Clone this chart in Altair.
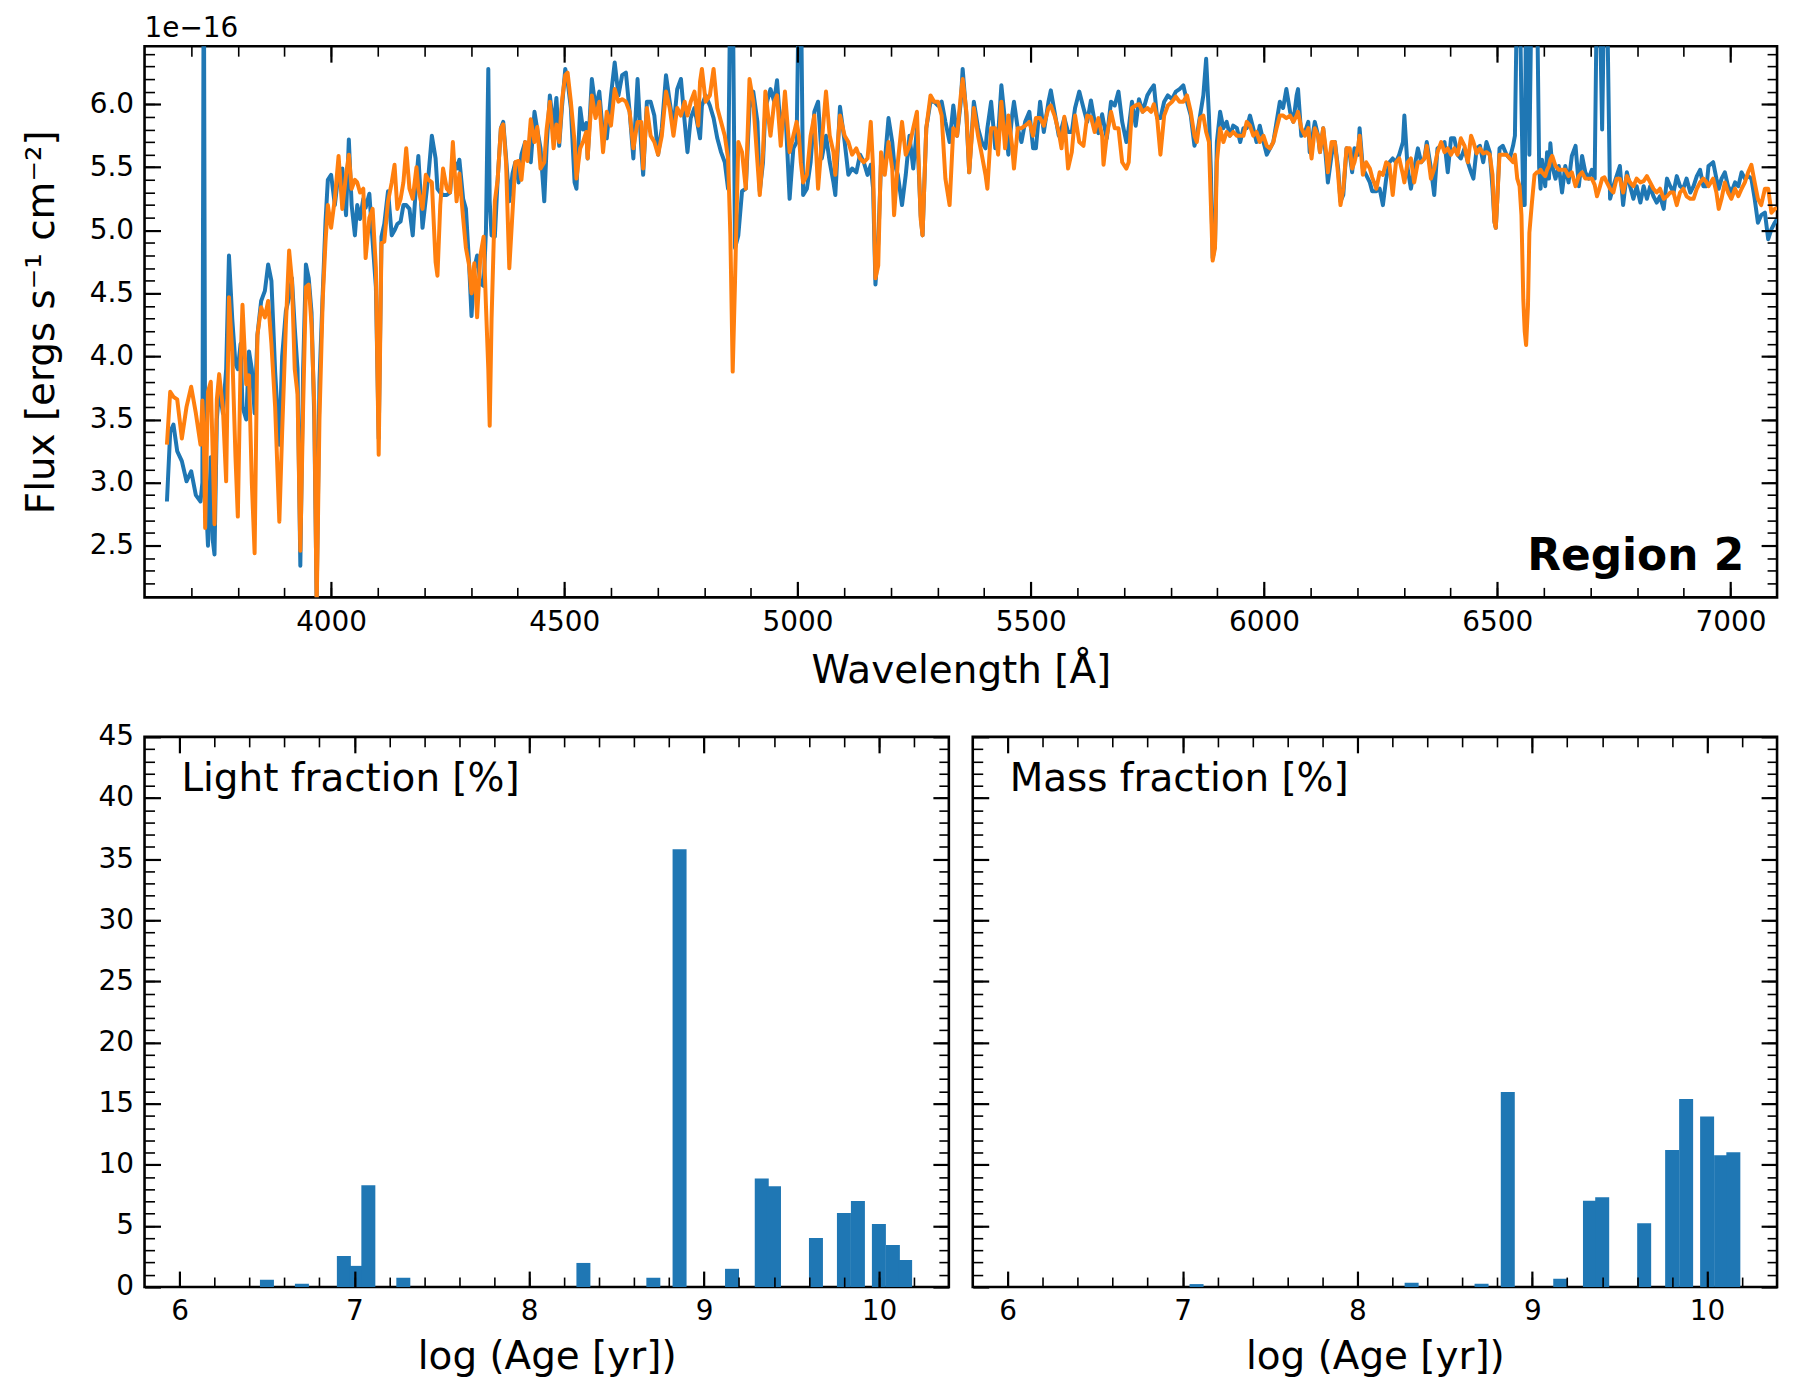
import altair as alt
import pandas as pd

# ---------------- spectrum (flux in units of 1e-16) ----------------
wave_a = [3648, 3655, 3662, 3670, 3680, 3690, 3700, 3710, 3720, 3724,
          3727, 3730, 3736, 3742, 3746, 3750, 3755, 3760, 3768, 3775,
          3781, 3788, 3795, 3800, 3806, 3810, 3818, 3824, 3830, 3836,
          3842, 3850, 3858, 3865, 3872, 3880, 3889, 3895, 3903, 3910,
          3916, 3922, 3928, 3934, 3940, 3946, 3952, 3958, 3964, 3969,
          3975, 3982, 3988, 3993]
obs_a = [2.85, 3.40, 3.46, 3.25, 3.17, 3.01, 3.09, 2.90, 2.85, 3.00,
         7.50, 3.00, 2.50, 3.20, 2.55, 2.43, 3.50, 3.75, 3.55, 3.90,
         4.80, 4.30, 3.94, 3.90, 4.10, 3.60, 3.50, 4.04, 3.90, 3.55,
         4.17, 4.44, 4.52, 4.73, 4.60, 3.88, 3.30, 4.00, 4.36, 4.47,
         4.62, 4.23, 3.90, 2.34, 3.90, 4.73, 4.62, 4.35, 3.50, 2.05,
         3.80, 4.50, 5.07, 5.40]
mod_a = [3.30, 3.72, 3.68, 3.66, 3.35, 3.60, 3.76, 3.55, 3.30, 3.65,
         3.40, 2.64, 3.72, 3.80, 3.25, 2.67, 3.66, 3.86, 3.59, 3.01,
         4.47, 4.04, 3.20, 2.73, 3.96, 4.41, 3.78, 3.85, 3.00, 2.44,
         4.17, 4.39, 4.31, 4.44, 4.10, 3.60, 2.69, 3.40, 4.25, 4.84,
         4.60, 3.90, 3.70, 2.46, 3.60, 4.55, 4.57, 4.25, 3.60, 2.00,
         3.50, 4.45, 4.91, 5.20]

wave_b = [4000, 4008, 4016, 4024, 4032, 4038, 4044, 4051, 4056, 4062,
          4069, 4074, 4082, 4089, 4096, 4102, 4108, 4114, 4122, 4130,
          4136, 4142, 4149, 4155, 4161, 4168, 4175, 4183, 4187, 4196,
          4203, 4209, 4216, 4224, 4228, 4234, 4240, 4248, 4255, 4261,
          4269, 4275, 4283, 4289, 4296, 4301, 4307, 4313, 4320, 4327,
          4332, 4337, 4340, 4344, 4351, 4357, 4364, 4369, 4375, 4382,
          4389, 4395, 4402, 4408, 4416, 4421, 4428, 4436, 4442, 4449,
          4457, 4462, 4469, 4477, 4483, 4489, 4495, 4502, 4507, 4514,
          4522, 4526, 4534, 4540, 4547, 4550, 4559, 4567]
obs_b = [5.44, 5.20, 5.46, 5.49, 5.12, 5.72, 5.20, 4.96, 5.20, 5.09,
         5.25, 5.18, 5.29, 4.91, 4.55, 3.35, 4.95, 5.05, 5.31, 4.96,
         5.00, 5.05, 5.07, 5.20, 5.20, 5.17, 4.96, 5.41, 5.59, 5.02,
         5.25, 5.45, 5.75, 5.57, 5.33, 5.30, 5.28, 5.28, 5.30, 5.57,
         5.49, 5.56, 5.25, 5.17, 4.72, 4.32, 4.70, 4.80, 4.58, 4.56,
         5.00, 6.28, 5.23, 4.96, 4.95, 5.40, 5.81, 5.86, 5.58, 5.23,
         5.45, 5.54, 5.38, 5.60, 5.70, 5.62, 5.54, 5.94, 5.80, 5.65,
         5.23, 5.66, 6.07, 5.81, 6.05, 5.67, 5.98, 6.28, 6.18, 5.97,
         5.38, 5.33, 5.97, 5.80, 5.85, 5.57, 6.20, 5.97]
mod_b = [5.02, 5.25, 5.59, 5.17, 5.44, 5.60, 5.33, 5.40, 5.38, 5.30,
         5.33, 4.78, 5.10, 5.17, 4.70, 3.22, 4.90, 4.91, 5.23, 5.38,
         5.52, 5.17, 5.25, 5.38, 5.65, 5.33, 5.25, 5.50, 5.33, 5.17,
         5.44, 5.40, 5.38, 4.75, 4.64, 5.20, 5.49, 5.33, 5.30, 5.70,
         5.23, 5.45, 5.10, 4.86, 4.72, 4.50, 4.74, 4.31, 4.80, 4.95,
         4.40, 3.90, 3.45, 4.30, 5.23, 5.40, 5.81, 5.84, 5.54, 4.70,
         5.15, 5.54, 5.55, 5.40, 5.70, 5.55, 5.88, 5.70, 5.82, 5.49,
         5.54, 5.80, 6.02, 5.65, 5.84, 5.70, 6.03, 6.23, 6.25, 6.02,
         5.70, 5.41, 5.65, 5.70, 5.78, 5.57, 6.07, 5.89]

wave_c = [4575, 4583, 4591, 4600, 4608, 4616, 4624, 4632, 4640, 4648,
          4657, 4665, 4669, 4677, 4685, 4693, 4701, 4709, 4718, 4726,
          4734, 4742, 4750, 4758, 4764, 4771, 4779, 4787, 4791, 4795,
          4803, 4812, 4820, 4828, 4836, 4844, 4851, 4856, 4861, 4866,
          4873, 4881, 4889, 4897, 4905, 4914, 4919, 4926, 4931, 4942,
          4950, 4956, 4964, 4973, 4983, 4991, 4998, 5003, 5007, 5012,
          5020, 5028, 5036, 5044, 5052, 5061, 5069, 5077, 5081, 5091,
          5101, 5109, 5117, 5126, 5134, 5142, 5150, 5157, 5162, 5167,
          5173, 5179, 5187, 5195, 5203, 5207, 5215, 5224, 5232, 5240,
          5248, 5256, 5264, 5268, 5276, 5285, 5293, 5301, 5309, 5317,
          5326, 5334, 5342, 5350, 5354, 5362, 5368, 5378, 5387, 5395,
          5403, 5407, 5415, 5424, 5430, 5437, 5445, 5452, 5460, 5464,
          5472, 5480, 5488, 5497, 5505, 5511, 5520, 5528, 5538, 5543,
          5551, 5560, 5566, 5572, 5580, 5588, 5595, 5604, 5613, 5621,
          5629, 5637, 5645, 5653, 5656, 5663, 5672, 5680, 5688, 5696,
          5705, 5710, 5717, 5725, 5732, 5740, 5750, 5758, 5764, 5771,
          5778, 5786, 5794, 5803, 5811, 5819, 5827, 5835, 5843, 5851]
obs_c = [6.10, 5.75, 5.73, 6.07, 6.33, 6.07, 6.23, 6.25, 5.94, 5.57,
         6.20, 5.65, 5.44, 6.02, 6.02, 5.91, 5.60, 5.81, 6.23, 6.02,
         5.81, 6.12, 6.20, 5.86, 5.62, 5.89, 5.97, 5.81, 5.73, 5.99,
         6.07, 5.99, 5.89, 5.73, 5.62, 5.54, 5.33, 7.00, 7.00, 4.86,
         4.96, 5.31, 5.33, 5.97, 6.10, 5.86, 5.31, 5.54, 5.97, 6.12,
         6.02, 6.19, 5.78, 6.02, 5.25, 5.65, 5.70, 7.00, 7.00, 5.28,
         5.33, 5.54, 5.94, 6.02, 5.57, 5.75, 5.54, 5.38, 5.28, 5.98,
         5.70, 5.44, 5.49, 5.46, 5.60, 5.54, 5.44, 5.52, 5.33, 4.57,
         4.90, 5.54, 5.54, 5.89, 5.70, 5.54, 5.44, 5.20, 5.44, 5.75,
         5.49, 5.81, 5.12, 4.96, 5.81, 6.02, 6.02, 5.99, 6.02, 5.86,
         5.70, 5.99, 5.75, 6.02, 6.28, 5.91, 5.46, 6.02, 5.81, 5.70,
         5.65, 5.81, 6.02, 5.65, 5.75, 6.15, 5.86, 5.60, 5.91, 6.02,
         5.81, 5.70, 5.86, 5.94, 5.65, 5.65, 6.02, 5.78, 6.02, 6.11,
         5.94, 5.75, 5.81, 5.89, 5.78, 5.78, 5.97, 6.10, 5.97, 5.86,
         6.03, 5.86, 5.77, 5.92, 5.86, 5.73, 6.02, 5.99, 6.10, 5.86,
         5.70, 5.81, 6.02, 5.83, 6.04, 5.94, 6.07, 6.12, 6.15, 5.89,
         5.89, 6.02, 6.07, 6.04, 6.10, 6.12, 6.15, 6.02, 5.91, 5.67]
mod_c = [6.02, 5.62, 5.94, 5.83, 6.12, 6.02, 6.04, 6.02, 5.94, 5.65,
         5.86, 5.86, 5.49, 5.97, 5.75, 5.70, 5.60, 5.75, 6.10, 5.97,
         5.75, 5.97, 5.91, 6.02, 5.91, 6.02, 6.10, 5.83, 6.18, 6.28,
         6.02, 6.07, 6.28, 5.97, 5.86, 5.75, 5.57, 4.96, 3.88, 4.60,
         5.70, 5.62, 5.33, 6.20, 6.02, 5.54, 5.28, 5.62, 6.10, 5.75,
         6.02, 6.07, 5.67, 6.10, 5.62, 5.75, 5.86, 5.75, 5.54, 5.38,
         5.44, 5.75, 5.91, 5.33, 5.70, 6.10, 5.75, 5.62, 5.44, 5.91,
         5.75, 5.70, 5.60, 5.65, 5.57, 5.54, 5.57, 5.86, 5.49, 4.62,
         4.72, 5.62, 5.44, 5.70, 5.49, 5.12, 5.54, 5.86, 5.60, 5.67,
         5.81, 5.94, 5.09, 4.96, 5.81, 6.07, 6.02, 6.02, 5.91, 5.41,
         5.20, 5.81, 5.75, 6.07, 6.20, 5.94, 5.46, 5.97, 5.75, 5.60,
         5.44, 5.33, 5.81, 5.81, 5.60, 6.02, 5.65, 5.91, 5.67, 5.49,
         5.81, 5.81, 5.83, 5.86, 5.75, 5.89, 5.89, 5.83, 5.97, 5.99,
         5.91, 5.78, 5.65, 5.90, 5.49, 5.62, 5.91, 5.70, 5.67, 5.91,
         5.90, 5.78, 5.89, 5.75, 5.52, 5.75, 5.94, 5.81, 5.81, 5.54,
         5.49, 5.54, 5.97, 5.99, 6.00, 5.94, 5.97, 5.94, 6.00, 5.89,
         5.60, 5.91, 5.99, 6.02, 6.06, 6.02, 6.02, 6.07, 5.94, 5.75]

wave_d = [5856, 5863, 5870, 5876, 5882, 5886, 5890, 5895, 5899, 5906,
          5913, 5920, 5927, 5934, 5942, 5949, 5956, 5963, 5970, 5977,
          5984, 5991, 5999, 6006, 6013, 6020, 6027, 6034, 6041, 6048,
          6056, 6063, 6070, 6073, 6080, 6088, 6095, 6098, 6102, 6109,
          6116, 6120, 6127, 6134, 6137, 6145, 6152, 6159, 6164, 6170,
          6177, 6184, 6189, 6194, 6202, 6205, 6212, 6219, 6227, 6232,
          6241, 6248, 6255, 6262, 6269, 6276, 6283, 6290, 6298, 6301,
          6308, 6315, 6322, 6330, 6337, 6344, 6349, 6358, 6365, 6372,
          6380, 6387, 6394, 6401, 6408, 6415, 6422, 6430, 6437, 6444,
          6449, 6456, 6463, 6470, 6477, 6484, 6490, 6494, 6497, 6500,
          6505, 6512, 6520, 6527, 6534, 6538]
obs_d = [5.75, 5.91, 6.07, 6.36, 5.91, 5.49, 4.78, 4.88, 5.70, 5.94,
         5.81, 5.86, 5.75, 5.83, 5.81, 5.70, 5.81, 5.81, 5.91, 5.81,
         5.70, 5.83, 5.70, 5.60, 5.65, 5.70, 5.86, 6.02, 5.97, 6.12,
         5.94, 5.86, 6.07, 6.12, 5.75, 5.78, 5.86, 5.62, 5.70, 5.86,
         5.75, 5.62, 5.81, 5.52, 5.38, 5.60, 5.70, 5.49, 5.23, 5.28,
         5.65, 5.60, 5.46, 5.65, 5.60, 5.81, 5.49, 5.44, 5.38, 5.31,
         5.31, 5.33, 5.20, 5.41, 5.54, 5.57, 5.54, 5.60, 5.70, 5.91,
         5.49, 5.33, 5.49, 5.65, 5.54, 5.57, 5.70, 5.49, 5.28, 5.65,
         5.67, 5.70, 5.46, 5.73, 5.73, 5.60, 5.57, 5.65, 5.54, 5.46,
         5.41, 5.65, 5.67, 5.54, 5.70, 5.62, 5.33, 5.07, 5.02, 5.23,
         5.65, 5.67, 5.60, 5.57, 5.67, 5.75]
mod_d = [5.70, 5.89, 5.91, 5.78, 5.70, 5.23, 4.76, 4.86, 5.54, 5.81,
         5.70, 5.78, 5.75, 5.78, 5.75, 5.75, 5.75, 5.86, 5.83, 5.75,
         5.78, 5.70, 5.75, 5.67, 5.65, 5.70, 5.81, 5.91, 5.91, 5.89,
         5.91, 5.86, 5.91, 5.94, 5.81, 5.75, 5.81, 5.70, 5.57, 5.81,
         5.75, 5.62, 5.81, 5.60, 5.46, 5.70, 5.70, 5.44, 5.20, 5.33,
         5.65, 5.65, 5.49, 5.54, 5.67, 5.75, 5.44, 5.54, 5.49, 5.42,
         5.33, 5.46, 5.44, 5.54, 5.52, 5.28, 5.54, 5.57, 5.44, 5.38,
         5.54, 5.57, 5.38, 5.54, 5.54, 5.57, 5.67, 5.41, 5.49, 5.62,
         5.70, 5.62, 5.65, 5.60, 5.65, 5.60, 5.73, 5.67, 5.54, 5.75,
         5.70, 5.61, 5.65, 5.61, 5.62, 5.60, 5.44, 5.07, 5.02, 5.23,
         5.60, 5.60, 5.60, 5.57, 5.54, 5.60]

wave_e = [6543, 6548, 6552, 6556, 6559, 6562, 6566, 6569, 6574, 6580,
          6585, 6590, 6593, 6596, 6603, 6607, 6611, 6614, 6618, 6625,
          6632, 6639, 6646, 6653, 6660, 6668, 6675, 6682, 6689, 6696,
          6703, 6709, 6714, 6719, 6725, 6730, 6735, 6742, 6749, 6756,
          6763, 6770, 6778, 6785, 6792, 6799, 6807, 6814, 6821, 6828,
          6835, 6842, 6849, 6857, 6864, 6871, 6878, 6885, 6892, 6899,
          6906, 6914, 6921, 6928, 6935, 6942, 6949, 6953, 6963, 6970,
          6975, 6981, 6988, 6995, 7002, 7010, 7017, 7024, 7031, 7038,
          7045, 7052, 7059, 7066, 7074, 7081, 7088, 7095, 7100]
obs_e = [7.00, 7.00, 6.00, 5.20, 5.20, 7.00, 7.00, 5.60, 7.00, 7.00,
         7.00, 5.50, 5.33, 5.56, 5.35, 5.62, 5.41, 5.69, 5.51, 5.41,
         5.51, 5.30, 5.51, 5.38, 5.59, 5.67, 5.35, 5.59, 5.46, 5.41,
         5.48, 5.41, 7.00, 7.00, 5.80, 7.00, 7.00, 5.25, 5.35, 5.43,
         5.51, 5.20, 5.46, 5.35, 5.25, 5.35, 5.22, 5.35, 5.25, 5.35,
         5.27, 5.22, 5.27, 5.17, 5.41, 5.35, 5.30, 5.43, 5.35, 5.33,
         5.41, 5.30, 5.35, 5.43, 5.48, 5.35, 5.35, 5.51, 5.54, 5.41,
         5.33, 5.41, 5.46, 5.35, 5.30, 5.38, 5.35, 5.46, 5.41, 5.43,
         5.41, 5.25, 5.06, 5.12, 5.14, 4.93, 5.01, 5.06, 5.09]
mod_e = [5.41, 5.35, 5.12, 4.45, 4.20, 4.09, 4.40, 4.98, 5.20, 5.44,
         5.46, 5.46, 5.48, 5.46, 5.43, 5.48, 5.51, 5.56, 5.59, 5.51,
         5.48, 5.48, 5.48, 5.43, 5.46, 5.35, 5.43, 5.46, 5.41, 5.41,
         5.41, 5.36, 5.27, 5.33, 5.41, 5.42, 5.38, 5.33, 5.30, 5.41,
         5.41, 5.30, 5.43, 5.38, 5.35, 5.41, 5.38, 5.39, 5.43, 5.38,
         5.33, 5.30, 5.33, 5.25, 5.27, 5.30, 5.30, 5.20, 5.30, 5.33,
         5.27, 5.25, 5.25, 5.33, 5.38, 5.41, 5.38, 5.35, 5.41, 5.30,
         5.17, 5.25, 5.38, 5.30, 5.25, 5.33, 5.27, 5.33, 5.38, 5.46,
         5.52, 5.38, 5.25, 5.20, 5.33, 5.33, 5.14, 5.17, 5.18]

# ---------------- population histograms ----------------
age_light = [6.50, 6.70, 6.94, 7.01, 7.08, 7.28, 8.31, 8.71, 8.86,
             9.16, 9.33, 9.40, 9.64, 9.80, 9.88, 10.00, 10.08, 10.15]
light_frac = [0.60, 0.27, 2.54, 1.73, 8.32, 0.76, 1.97, 0.76, 35.8,
              1.49, 8.88, 8.24, 4.01, 6.05, 7.03, 5.15, 3.44, 2.22]
age_mass = [7.08, 8.31, 8.71, 8.86, 9.16, 9.33, 9.40, 9.64, 9.80,
            9.88, 10.00, 10.08, 10.15]
mass_frac = [0.24, 0.35, 0.27, 15.95, 0.68, 7.05, 7.35, 5.22, 11.2,
             15.38, 13.95, 10.78, 11.03]

# ---------------- ticks and ranges ----------------
spec_x_major = [4000, 4500, 5000, 5500, 6000, 6500, 7000]
spec_x_minor = list(range(3700, 7100, 100))
spec_y_major = [2.5, 3.0, 3.5, 4.0, 4.5, 5.0, 5.5, 6.0]
spec_y_minor = [round(2.1 + 0.1 * i, 1) for i in range(44)]
age_x_major = [6, 7, 8, 9, 10]
age_x_minor = [round(6.0 + 0.2 * i, 1) for i in range(22)]
frac_y_major = [0, 5, 10, 15, 20, 25, 30, 35, 40, 45]
frac_y_minor = list(range(1, 45))

SPEC_X = [3600, 7100]
SPEC_Y = [2.09, 6.46]
AGE_X = [5.8, 10.4]
FRAC_Y = [0, 45]

FONT = "DejaVu Sans"
BLUE = "#1f77b4"
ORANGE = "#ff7f0e"
MAJ = 16
MINR = 10
BAR_HALF = 0.04
TOP_W, TOP_H = 1638, 553
BOT_W, BOT_H = 807, 552
LINE_W = 4.0


def make_axis(orient, values, size, labels=False, fmt=None, title=None, pad=0):
    kw = dict(orient=orient, values=values, tickSize=size, offset=-size,
              domain=False, grid=False, ticks=True, tickColor="black",
              tickWidth=2.2 if size == MAJ else 1.6, labels=labels,
              zindex=1, title=title)
    if labels:
        kw.update(format=fmt, labelFont=FONT, labelFontSize=28,
                  labelColor="black", labelPadding=11, labelFlush=False,
                  labelOverlap=False)
    if title:
        kw.update(titleFont=FONT, titleFontSize=39, titleFontWeight="normal",
                  titleColor="black", titlePadding=pad)
    return alt.Axis(**kw)


def frame_layers(xs, ys, xdom, ydom, xmaj, xmin, ymaj, ymin, xfmt, yfmt,
                 xtitle, ytitle, ylabels, xpad, ypad):
    dummy = pd.DataFrame({"u": [xdom[0]], "v": [ydom[0]]})
    pairs = [
        (make_axis("bottom", xmaj, MAJ, True, xfmt, xtitle, xpad),
         make_axis("left", ymaj, MAJ, ylabels, yfmt, ytitle, ypad)),
        (make_axis("bottom", xmin, MINR), make_axis("left", ymin, MINR)),
        (make_axis("top", xmaj, MAJ), make_axis("right", ymaj, MAJ)),
        (make_axis("top", xmin, MINR), make_axis("right", ymin, MINR)),
    ]
    return [
        alt.Chart(dummy).mark_point(opacity=0).encode(
            x=alt.X("u:Q", scale=xs, axis=a), y=alt.Y("v:Q", scale=ys, axis=b))
        for a, b in pairs
    ]


one = pd.DataFrame({"t": [0]})

# ---------------- top panel: spectrum ----------------
xs_spec = alt.Scale(domain=SPEC_X, nice=False, zero=False)
ys_spec = alt.Scale(domain=SPEC_Y, nice=False, zero=False)

df_obs = pd.DataFrame({"wave": wave_a + wave_b + wave_c + wave_d + wave_e,
                       "flux": obs_a + obs_b + obs_c + obs_d + obs_e})
df_mod = pd.DataFrame({"wave": wave_a + wave_b + wave_c + wave_d + wave_e,
                       "flux": mod_a + mod_b + mod_c + mod_d + mod_e})

obs_line = alt.Chart(df_obs).mark_line(color=BLUE, strokeWidth=LINE_W, clip=True,
                                       strokeJoin="round").encode(
    x=alt.X("wave:Q", scale=xs_spec, axis=None),
    y=alt.Y("flux:Q", scale=ys_spec, axis=None))
mod_line = alt.Chart(df_mod).mark_line(color=ORANGE, strokeWidth=LINE_W, clip=True,
                                       strokeJoin="round").encode(
    x=alt.X("wave:Q", scale=xs_spec, axis=None),
    y=alt.Y("flux:Q", scale=ys_spec, axis=None))

region_txt = alt.Chart(one).mark_text(
    text="Region 2", font=FONT, fontSize=44, fontWeight="bold", align="right",
    baseline="alphabetic", color="black").encode(
    x=alt.value(TOP_W - 33), y=alt.value(TOP_H - 27))
expo_txt = alt.Chart(one).mark_text(
    text="1e\u221216", font=FONT, fontSize=28, align="left",
    baseline="alphabetic", color="black").encode(
    x=alt.value(0), y=alt.value(-9))

top = alt.layer(
    obs_line, mod_line,
    *frame_layers(xs_spec, ys_spec, SPEC_X, SPEC_Y, spec_x_major, spec_x_minor,
                  spec_y_major, spec_y_minor, "d", ".1f", "Wavelength [\u00c5]",
                  "Flux [ergs s\u207b\u00b9 cm\u207b\u00b2]", True, 15, 28),
    region_txt, expo_txt,
).resolve_axis(x="independent", y="independent").properties(width=TOP_W, height=TOP_H)

# ---------------- bottom panels: histograms ----------------
xs_age = alt.Scale(domain=AGE_X, nice=False, zero=False)
ys_frac = alt.Scale(domain=FRAC_Y, nice=False, zero=False)


def hist_panel(ages, fracs, label, ylabels):
    df = pd.DataFrame({"age": ages, "frac": fracs})
    bars = alt.Chart(df).transform_calculate(
        lo=f"datum.age - {BAR_HALF}", hi=f"datum.age + {BAR_HALF}", base="0"
    ).mark_bar(color=BLUE, clip=True).encode(
        x=alt.X("lo:Q", scale=xs_age, axis=None),
        x2="hi:Q",
        y=alt.Y("frac:Q", scale=ys_frac, axis=None),
        y2="base:Q")
    txt = alt.Chart(one).mark_text(
        text=label, font=FONT, fontSize=39, align="left", baseline="alphabetic",
        color="black").encode(x=alt.value(37), y=alt.value(54))
    return alt.layer(
        bars,
        *frame_layers(xs_age, ys_frac, AGE_X, FRAC_Y, age_x_major, age_x_minor,
                      frac_y_major, frac_y_minor, "d", "d", "log (Age [yr])",
                      None, ylabels, 12, 10),
        txt,
    ).resolve_axis(x="independent", y="independent").properties(width=BOT_W, height=BOT_H)


bl = hist_panel(age_light, light_frac, "Light fraction [%]", True)
br = hist_panel(age_mass, mass_frac, "Mass fraction [%]", False)

chart = alt.vconcat(
    top,
    alt.hconcat(bl, br, spacing=24, bounds="flush"),
    spacing=140, bounds="flush",
).properties(
    padding={"left": 13, "top": 3, "right": 12, "bottom": 12},
    background="white",
).configure(font=FONT).configure_view(stroke="black", strokeWidth=2.6)

chart.save("out.html", embed_options={"renderer": "svg", "actions": False})
